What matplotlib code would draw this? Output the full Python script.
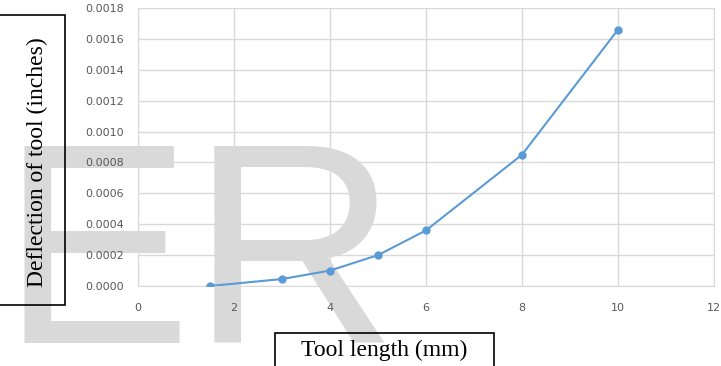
import matplotlib.pyplot as plt
from matplotlib.patches import Rectangle

tool_length = [1.5, 3, 4, 5, 6, 8, 10]
deflection = [0.0000, 0.000045, 0.0001, 0.0002, 0.00036, 0.00085, 0.00166]

x_ticks = [0, 2, 4, 6, 8, 10, 12]
y_ticks = [0.0000, 0.0002, 0.0004, 0.0006, 0.0008, 0.0010, 0.0012, 0.0014, 0.0016, 0.0018]

W, H = 721, 366
fig = plt.figure(figsize=(W / 100, H / 100), dpi=100)
ax = fig.add_axes([138 / W, 1 - 286 / H, (714 - 138) / W, (286 - 8) / H])
ax.patch.set_alpha(0)

ax.plot(tool_length, deflection, color='#5b9bd5', lw=1.5, marker='o', ms=5, zorder=3)

ax.set_xlim(0, 12)
ax.set_ylim(0, 0.0018)
ax.set_xticks(x_ticks)
ax.set_yticks(y_ticks)
ax.set_yticklabels(['%.4f' % v for v in y_ticks])
ax.tick_params(length=0, labelsize=8, labelcolor='#595959')
ax.tick_params(axis='x', pad=12)
ax.tick_params(axis='y', pad=10)
ax.grid(True, color='#d9d9d9', lw=1)
ax.set_axisbelow(True)
for s in ax.spines.values():
    s.set_color('#d9d9d9')

# boxed axis titles
fig.text(37 / W, 1 - 162 / H, 'Deflection of tool (inches)', rotation=90,
         ha='center', va='center', family='Liberation Serif', fontsize=17)
fig.patches.append(Rectangle((-5 / W, 1 - 305 / H), 70 / W, 290 / H,
                             transform=fig.transFigure, fill=False, ec='black', lw=1.2))
fig.text(384 / W, 1 - 350 / H, 'Tool length (mm)',
         ha='center', va='center', family='Liberation Serif', fontsize=17)
fig.patches.append(Rectangle((275 / W, -10 / H), 219 / W, 43 / H,
                             transform=fig.transFigure, fill=False, ec='black', lw=1.2))

# watermark behind the chart
fig.text(0, 1 - 343 / H, 'ER', fontsize=206, family='Liberation Sans',
         color='#c0c0c0', alpha=0.6, ha='left', va='baseline', zorder=-1)

fig.savefig('out.png', dpi=100)
